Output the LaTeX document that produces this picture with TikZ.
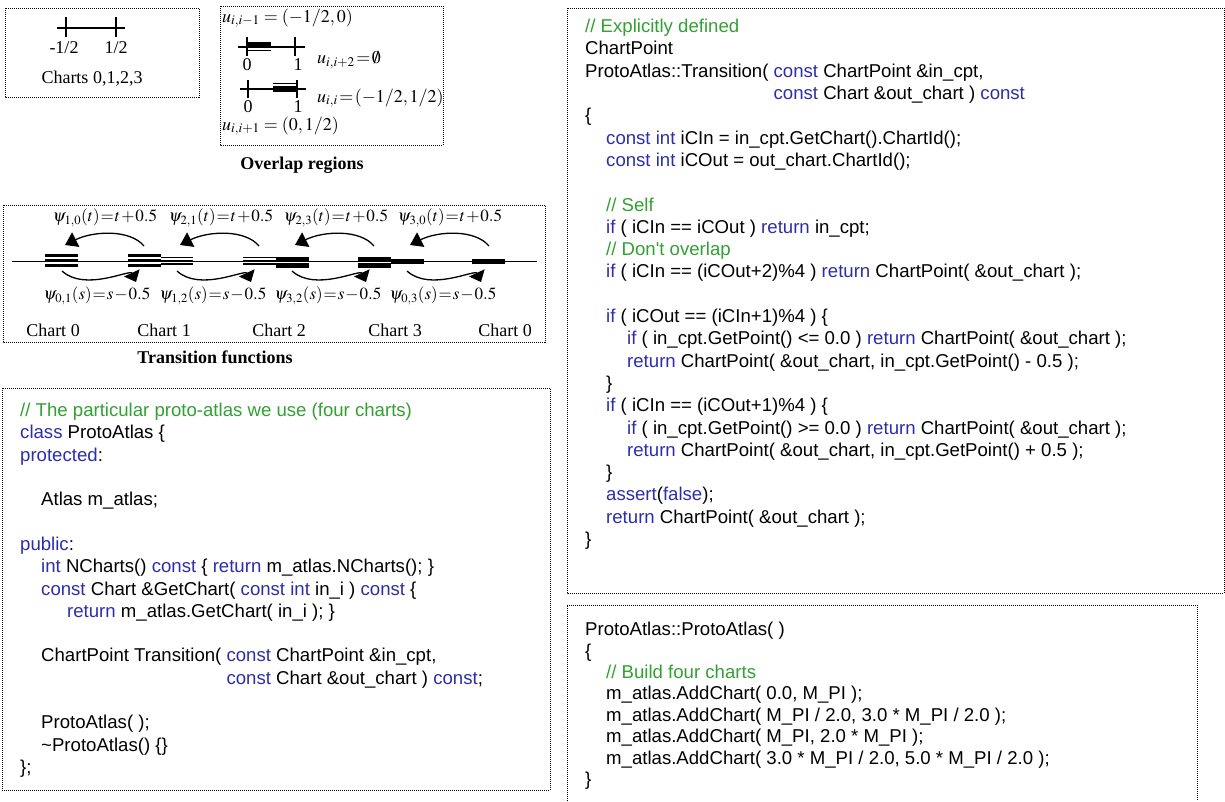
\documentclass[tikz,border=0pt]{standalone}
\usepackage{mathptmx}
\usepackage[no-math]{fontspec}
\setmainfont{Liberation Serif}
\newfontfamily\codefont{Liberation Sans}
\usetikzlibrary{arrows.meta}
\definecolor{cmtgreen}{RGB}{50,160,50}
\definecolor{kwblue}{RGB}{45,45,170}
\newcommand{\kw}[1]{\textcolor{kwblue}{#1}}
\newcommand{\cmt}[1]{\textcolor{cmtgreen}{#1}}
\newcommand{\ind}{\hspace*{21pt}}

\begin{document}
\begin{tikzpicture}[x=1pt,y=-1pt]
\tikzset{dotbox/.style={line width=1pt, dash pattern=on 1pt off 1pt},
  code/.style={anchor=north west, inner sep=0pt, align=left, font={\codefont\fontsize{18.6}{22.3}\selectfont}},
  lbl/.style={inner sep=0pt, font={\fontsize{18}{20}\selectfont}},
  tight/.style={font={\fontsize{18}{20}\selectfont\medmuskip=1mu\thickmuskip=1.5mu}},
  psi/.style={inner sep=0pt, font={\fontsize{17}{20}\selectfont\medmuskip=1mu\thickmuskip=1mu}},
  title/.style={inner sep=0pt, font={\fontsize{18}{20}\selectfont\bfseries}},
  trarrow/.style={line width=1.3pt, -{Triangle[length=12pt,width=16pt]}},
  tick/.style={line width=1.3pt}}
\useasboundingbox (0,0) rectangle (1225,801);

\draw[dotbox] (5,8) rectangle (199,97);
\draw[tick] (57,28) -- (125,28);
\draw[tick] (66,17) -- (66,37);
\draw[tick] (116,17) -- (116,37);
\node[lbl] (lo) at (64,48) {-1/2};
\node[lbl] (hi) at (116,48) {1/2};
\node[lbl] (charts) at (92,79) {Charts 0,1,2,3};

\draw[dotbox] (220,6) rectangle (443,145);
\node[lbl, anchor=west] (uprev) at (222,18) {$u_{i,i-1}=(-1/2,0)$};
\draw[tick] (238,47) -- (305,47);
\draw[tick] (247,37) -- (247,56);
\draw[tick] (295,37) -- (295,56);
\draw[line width=5pt] (247,44.5) -- (271,44.5);
\draw[line width=1.2pt] (247,50.5) -- (271,50.5);
\node[lbl] (zeroa) at (247,65) {0};
\node[lbl] (onea) at (298,65) {1};
\node[lbl, tight, anchor=west] (uskip) at (317,60) {$u_{i,i+2}=\emptyset$};
\draw[tick] (240,89) -- (306,89);
\draw[tick] (248,80) -- (248,98);
\draw[tick] (297,80) -- (297,98);
\draw[line width=1.2pt] (273,83.5) -- (297,83.5);
\draw[line width=6pt] (273,89) -- (297,89);
\node[lbl] (zerob) at (248,107) {0};
\node[lbl] (oneb) at (298,107) {1};
\node[lbl, tight, anchor=west] (uself) at (317,98) {$u_{i,i}=(-1/2,1/2)$};
\node[lbl, anchor=west] (unext) at (222,126) {$u_{i,i+1}=(0,1/2)$};
\node[title] (overlap) at (302,165) {Overlap regions};

\draw[dotbox] (3,205) rectangle (545,342);
\draw[line width=1pt] (12,261) -- (537,261);
\foreach \d in {-5,0,5} {
  \draw[line width=2.6pt] (45,260.5+\d) -- (78,260.5+\d);
  \draw[line width=2.6pt] (128,260.5+\d) -- (161,260.5+\d);
}
\foreach \d in {-3.4,0,3.4} {
  \draw[line width=1.5pt] (161,260.7+\d) -- (193,260.7+\d);
  \draw[line width=1.5pt] (243,260.7+\d) -- (276,260.7+\d);
}
\fill (276,257) rectangle (309,268);
\fill (358,257) rectangle (391,268);
\draw[white, line width=0.8pt] (276,262) -- (309,262) (358,262) -- (391,262);
\draw[line width=4.5pt] (391,261.3) -- (424,261.3);
\draw[line width=4.5pt] (472,261.5) -- (505,261.5);
\foreach \i in {0,...,3} {
  \coordinate (ts\i) at (144+115*\i,246);
  \coordinate (te\i) at (65+115*\i,245);
  \draw[trarrow] (ts\i) .. controls +(-14,-17) and +(28,-14) .. (te\i);
  \coordinate (bs\i) at (62+115*\i,271);
  \coordinate (be\i) at (136+115*\i,282);
  \draw[trarrow, -{Triangle[length=10pt,width=17pt]}] (bs\i) .. controls +(23,21) and +(-6,-13) .. (be\i);
}
\foreach \x/\a/\b in {105/1/0, 221/2/1, 336/2/3, 450/3/0}
  \node[psi] (up\a\b) at (\x,218) {$\psi_{\a,\b}(t)=t+0.5$};
\foreach \x/\c/\d in {97/0/1, 213/1/2, 328/3/2, 443/0/3}
  \node[psi] (dn\c\d) at (\x,296) {$\psi_{\c,\d}(s)=s-0.5$};
\foreach \x/\c [count=\n] in {53/0, 164/1, 279/2, 395/3, 505/0}
  \node[lbl] (chart\n) at (\x,330) {Chart \c};
\node[title] (transfn) at (215,357) {Transition functions};

\draw[dotbox] (2,388) rectangle (550,790);
\node[code] (cls) at (20,403) {\cmt{// The particular proto-atlas we use (four charts)}\\
\kw{class} ProtoAtlas \{\\
\kw{protected}:\\
\mbox{}\\
\ind Atlas m\_atlas;\\
\mbox{}\\
\kw{public}:\\
\ind\kw{int} NCharts() \kw{const} \{ \kw{return} m\_atlas.NCharts(); \}\\
\ind\kw{const} Chart \&GetChart( \kw{const int} in\_i ) \kw{const} \{\\
\ind\ind\hspace*{5pt}\kw{return} m\_atlas.GetChart( in\_i ); \}\\
\mbox{}\\
\ind ChartPoint Transition( \kw{const} ChartPoint \&in\_cpt,\\
\ind\phantom{ChartPoint Transition( }\kw{const} Chart \&out\_chart ) \kw{const};\\
\mbox{}\\
\ind ProtoAtlas( );\\
\ind\textasciitilde ProtoAtlas() \{\}\\
\};};

\draw[dotbox] (567,8) rectangle (1224,593);
\node[code] (trans) at (585,19) {\cmt{// Explicitly defined}\\
ChartPoint\\
ProtoAtlas::Transition( \kw{const} ChartPoint \&in\_cpt,\\
\phantom{ProtoAtlas::Transition( }\kw{const} Chart \&out\_chart ) \kw{const}\\
\{\\
\ind\kw{const int} iCIn = in\_cpt.GetChart().ChartId();\\
\ind\kw{const int} iCOut = out\_chart.ChartId();\\
\mbox{}\\
\ind\cmt{// Self}\\
\ind\kw{if} ( iCIn == iCOut ) \kw{return} in\_cpt;\\
\ind\cmt{// Don\textquotesingle t overlap}\\
\ind\kw{if} ( iCIn == (iCOut+2)\%4 ) \kw{return} ChartPoint( \&out\_chart );\\
\mbox{}\\
\ind\kw{if} ( iCOut == (iCIn+1)\%4 ) \{\\
\ind\ind\kw{if} ( in\_cpt.GetPoint() <= 0.0 ) \kw{return} ChartPoint( \&out\_chart );\\
\ind\ind\kw{return} ChartPoint( \&out\_chart, in\_cpt.GetPoint() - 0.5 );\\
\ind\}\\
\ind\kw{if} ( iCIn == (iCOut+1)\%4 ) \{\\
\ind\ind\kw{if} ( in\_cpt.GetPoint() >= 0.0 ) \kw{return} ChartPoint( \&out\_chart );\\
\ind\ind\kw{return} ChartPoint( \&out\_chart, in\_cpt.GetPoint() + 0.5 );\\
\ind\}\\
\ind\kw{assert}(\kw{false});\\
\ind\kw{return} ChartPoint( \&out\_chart );\\
\}};

\draw[dotbox] (567,801) -- (567,605) -- (1197,605) -- (1197,801);
\node[code, font={\codefont\fontsize{18.6}{21.4}\selectfont}] (ctor) at (585,622) {ProtoAtlas::ProtoAtlas( )\\
\{\\
\ind\cmt{// Build four charts}\\
\ind m\_atlas.AddChart( 0.0, M\_PI );\\
\ind m\_atlas.AddChart( M\_PI / 2.0, 3.0 * M\_PI / 2.0 );\\
\ind m\_atlas.AddChart( M\_PI, 2.0 * M\_PI );\\
\ind m\_atlas.AddChart( 3.0 * M\_PI / 2.0, 5.0 * M\_PI / 2.0 );\\
\}};
\end{tikzpicture}
\end{document}
